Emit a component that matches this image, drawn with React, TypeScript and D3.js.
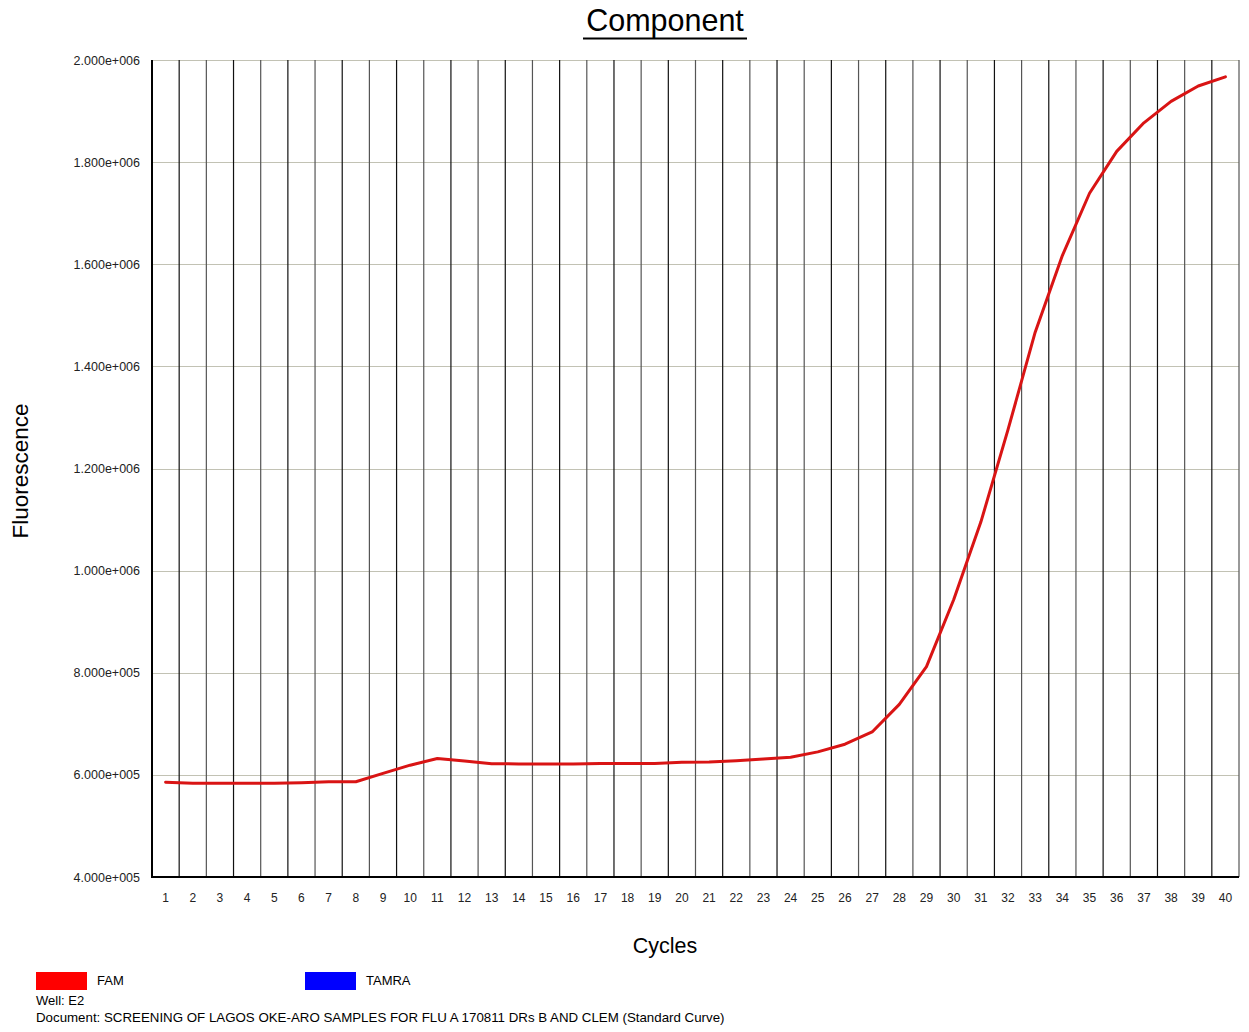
import React from "react";
import * as d3 from "d3";

// Amplification curve for well E2, FAM reporter
const cycles: number[] = d3.range(1, 41);
const famValues: number[] = [
  585500, 583500, 583500, 583500, 583500, 584700, 586600, 586600, 603000, 619000,
  632000, 627000, 622000, 621500, 621500, 621500, 622500, 622500, 622500, 624500,
  625000, 627500, 631000, 634500, 645000, 660000, 684000, 738000, 812000, 943000,
  1095000, 1276000, 1467000, 1617000, 1739000, 1821000, 1877000, 1919000, 1949000, 1967000,
];
const yTicks: number[] = [400000, 600000, 800000, 1000000, 1200000, 1400000, 1600000, 1800000, 2000000];
const legendItems: { name: string; color: string }[] = [
  { name: "FAM", color: "#ff0000" },
  { name: "TAMRA", color: "#0000ff" },
];
const wellLabel = "Well: E2";
const documentLabel =
  "Document: SCREENING OF LAGOS OKE-ARO SAMPLES FOR FLU A 170811 DRs B AND CLEM (Standard Curve)";

const W = 1249;
const H = 1032;
const left = 152;
const right = 1239;
const top = 60;
const bottom = 877;
const font = "Arial, 'Liberation Sans', sans-serif";

// "2.000e+006" style labels
function sciLabel(v: number): string {
  const exp = Math.floor(Math.log10(v));
  const mant = v / Math.pow(10, exp);
  return `${mant.toFixed(3)}e+${String(exp).padStart(3, "0")}`;
}

export default function App() {
  const x = d3
    .scaleBand<number>()
    .domain(cycles)
    .range([left, right])
    .paddingInner(0)
    .paddingOuter(0);
  const y = d3.scaleLinear().domain([400000, 2000000]).range([bottom, top]);

  const line = d3
    .line<number>()
    .x((_, i) => (x(cycles[i]) as number) + x.bandwidth() / 2)
    .y((d) => y(d))
    .curve(d3.curveLinear);

  const boundaries = cycles.map((c) => (x(c) as number) + x.bandwidth());

  return (
    <svg
      width={W}
      height={H}
      style={{ position: "absolute", left: 0, top: 0, background: "#fff" }}
      fontFamily={font}
    >
      <rect x={0} y={0} width={W} height={H} fill="#ffffff" />

      {/* title */}
      <text x={665} y={31} textAnchor="middle" fontSize={30.5} fill="#000">
        Component
      </text>
      <line x1={583} x2={747} y1={38.5} y2={38.5} stroke="#000" strokeWidth={2} />

      {/* horizontal grid */}
      {yTicks.map((t) => (
        <line
          key={"h" + t}
          x1={left}
          x2={right}
          y1={Math.round(y(t)) + 0.5}
          y2={Math.round(y(t)) + 0.5}
          stroke="#c2c2b4"
          strokeWidth={1.2}
        />
      ))}

      {/* vertical cycle separators */}
      {boundaries.map((b, i) => (
        <line
          key={"v" + i}
          x1={b}
          x2={b}
          y1={top}
          y2={bottom}
          stroke={i % 2 === 0 ? "#111" : "#555"}
          strokeWidth={1.2}
        />
      ))}

      {/* axes */}
      <line x1={left} x2={left} y1={top} y2={bottom + 1} stroke="#000" strokeWidth={2} />
      <line x1={left} x2={right} y1={bottom} y2={bottom} stroke="#000" strokeWidth={2} />

      {/* y tick labels */}
      {yTicks.map((t) => (
        <text
          key={"yl" + t}
          x={140}
          y={y(t) + 4.5}
          textAnchor="end"
          fontSize={12.5}
          fill="#222"
        >
          {sciLabel(t)}
        </text>
      ))}

      {/* x tick labels */}
      {cycles.map((c) => (
        <text
          key={"xl" + c}
          x={(x(c) as number) + x.bandwidth() / 2}
          y={902}
          textAnchor="middle"
          fontSize={12}
          fill="#222"
        >
          {c}
        </text>
      ))}

      {/* axis titles */}
      <text
        transform={`translate(28,471) rotate(-90)`}
        textAnchor="middle"
        fontSize={22.5}
        fill="#000"
      >
        Fluorescence
      </text>
      <text x={665} y={953} textAnchor="middle" fontSize={21.5} fill="#000">
        Cycles
      </text>

      {/* FAM curve */}
      <path
        d={line(famValues) ?? ""}
        fill="none"
        stroke="#d91414"
        strokeWidth={3}
        strokeLinejoin="round"
        strokeLinecap="round"
      />

      {/* legend */}
      {legendItems.map((item, i) => {
        const lx = 36 + i * 269;
        return (
          <g key={item.name}>
            <rect x={lx} y={972} width={51} height={18} fill={item.color} />
            <text x={lx + 61} y={985} fontSize={13} fill="#000">
              {item.name}
            </text>
          </g>
        );
      })}
      <text x={36} y={1005} fontSize={13} fill="#000">
        {wellLabel}
      </text>
      <text x={36} y={1022} fontSize={13.3} fill="#000">
        {documentLabel}
      </text>
    </svg>
  );
}
